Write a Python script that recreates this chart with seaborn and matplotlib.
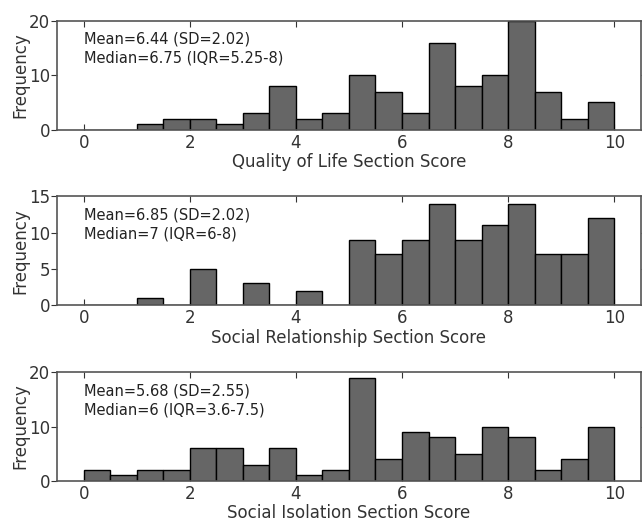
import numpy as np
import pandas as pd
import matplotlib
matplotlib.use("Agg")
import matplotlib.pyplot as plt
import seaborn as sns

# bin edges 0, 0.5, ..., 10
bin_edges = [0, 0.5, 1, 1.5, 2, 2.5, 3, 3.5, 4, 4.5, 5,
             5.5, 6, 6.5, 7, 7.5, 8, 8.5, 9, 9.5, 10]
bin_centers = [0.25, 0.75, 1.25, 1.75, 2.25, 2.75, 3.25, 3.75, 4.25, 4.75,
               5.25, 5.75, 6.25, 6.75, 7.25, 7.75, 8.25, 8.75, 9.25, 9.75]

qol_counts = [0, 0, 1, 2, 2, 1, 3, 8, 2, 3, 10, 7, 3, 16, 8, 10, 20, 7, 2, 5]
social_rel_counts = [0, 0, 1, 0, 5, 0, 3, 0, 2, 0, 9, 7, 9, 14, 9, 11, 14, 7, 7, 12]
social_iso_counts = [2, 1, 2, 2, 6, 6, 3, 6, 1, 2, 19, 4, 9, 8, 5, 10, 8, 2, 4, 10]

xlabels = ["Quality of Life Section Score",
           "Social Relationship Section Score",
           "Social Isolation Section Score"]
stats_text = ["Mean=6.44 (SD=2.02)\nMedian=6.75 (IQR=5.25-8)",
              "Mean=6.85 (SD=2.02)\nMedian=7 (IQR=6-8)",
              "Mean=5.68 (SD=2.55)\nMedian=6 (IQR=3.6-7.5)"]
yticks = [[0, 10, 20], [0, 5, 10, 15], [0, 10, 20]]
ymax = [20, 15, 20]

sns.set_style("white")
plt.rcParams['font.family'] = ['DejaVu Sans']

fig, axes = plt.subplots(3, 1, figsize=(6.42, 5.21), dpi=100)
fig.subplots_adjust(left=0.089, right=0.998, top=0.96, bottom=0.077, hspace=0.615)

all_counts = [qol_counts, social_rel_counts, social_iso_counts]
for i, ax in enumerate(axes):
    df = pd.DataFrame({"score": bin_centers, "count": all_counts[i]})
    sns.histplot(data=df, x="score", weights="count", bins=bin_edges, ax=ax,
                 color="#666666", edgecolor="black", linewidth=1.0, alpha=1)
    ax.set_xlim(-0.5, 10.5)
    ax.set_ylim(0, ymax[i])
    ax.set_xticks([0, 2, 4, 6, 8, 10])
    ax.set_yticks(yticks[i])
    ax.set_xlabel(xlabels[i], fontsize=12, color="#333333", labelpad=1)
    ax.set_ylabel("Frequency", fontsize=12, color="#333333", labelpad=0)
    ax.tick_params(axis="x", direction="in", top=True, bottom=True, length=4,
                   color="#333333", labelsize=12, labelcolor="#333333", pad=3)
    ax.tick_params(axis="y", direction="out", left=True, length=4,
                   color="#333333", labelsize=12, labelcolor="#333333", pad=1)
    ax.tick_params(axis="y", which="both", right=True)
    for side in ax.spines.values():
        side.set_color("#555555")
        side.set_linewidth(1.2)
    ax.text(0.046, 0.9, stats_text[i], transform=ax.transAxes, fontsize=10.5,
            va="top", ha="left", color="#222222", linespacing=1.35)

plt.savefig("out.png", dpi=100)
